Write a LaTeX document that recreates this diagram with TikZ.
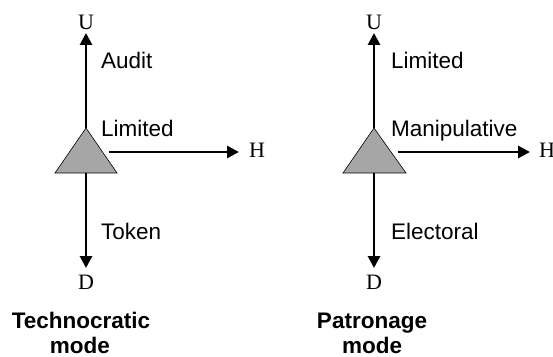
\documentclass[tikz,border=0pt]{standalone}
\usepackage{fontspec}
\setmainfont{Liberation Serif}
\newfontfamily\labelfont{Liberation Sans}
\usetikzlibrary{arrows.meta}

\begin{document}
\begin{tikzpicture}[x=1pt,y=1pt,
  axis/.style={line width=2.8pt,-{Triangle[length=12pt,width=12pt]}},
  pole/.style={inner sep=0pt,font=\fontsize{22}{26}\selectfont},
  lab/.style={inner sep=0pt,anchor=base west,font=\labelfont\fontsize{22.5}{26}\selectfont},
  modetitle/.style={inner sep=0pt,anchor=base,font=\labelfont\bfseries\fontsize{22.5}{26}\selectfont},
  cone/.style={fill=black!35,draw=black,line width=0.6pt}]
\useasboundingbox[fill=white] (0,0) rectangle (553,356);

% Technocratic mode
\coordinate (t-apex) at (86,228);
\coordinate (t-bl) at (55,183);
\coordinate (t-br) at (117,183);
\coordinate (t-base) at (86,183);
\coordinate (t-hstart) at (109,204);
\coordinate (t-up) at (86,323);
\coordinate (t-down) at (86,88);
\coordinate (t-right) at (239,204);
\draw[axis] (t-apex) -- (t-up);
\draw[axis] (t-base) -- (t-down);
\draw[axis] (t-hstart) -- (t-right);
\filldraw[cone] (t-apex) -- (t-br) -- (t-bl) -- cycle;
\node[pole,anchor=base] (t-U) at (86,326) {U};
\node[pole,anchor=base] (t-D) at (86,67) {D};
\node[pole,anchor=base west] (t-H) at (249,198) {H};
\node[lab] (t-audit) at (101,287) {Audit};
\node[lab] (t-limited) at (101,219) {Limited};
\node[lab] (t-token) at (101,117) {Token};
\node[modetitle] (t-title1) at (81,28) {Technocratic};
\node[modetitle] (t-title2) at (80,3) {mode};

% Patronage mode
\coordinate (p-apex) at (374,228);
\coordinate (p-bl) at (343,183);
\coordinate (p-br) at (406,183);
\coordinate (p-base) at (374,183);
\coordinate (p-hstart) at (398,204);
\coordinate (p-up) at (374,323);
\coordinate (p-down) at (374,88);
\coordinate (p-right) at (530,204);
\draw[axis] (p-apex) -- (p-up);
\draw[axis] (p-base) -- (p-down);
\draw[axis] (p-hstart) -- (p-right);
\filldraw[cone] (p-apex) -- (p-br) -- (p-bl) -- cycle;
\node[pole,anchor=base] (p-U) at (374,326) {U};
\node[pole,anchor=base] (p-D) at (374,67) {D};
\node[pole,anchor=base west] (p-H) at (539,198) {H};
\node[lab] (p-limited) at (391,287) {Limited};
\node[lab] (p-manip) at (391,219) {Manipulative};
\node[lab] (p-electoral) at (391,117) {Electoral};
\node[modetitle] (p-title1) at (372,28) {Patronage};
\node[modetitle] (p-title2) at (372,3) {mode};
\end{tikzpicture}
\end{document}
